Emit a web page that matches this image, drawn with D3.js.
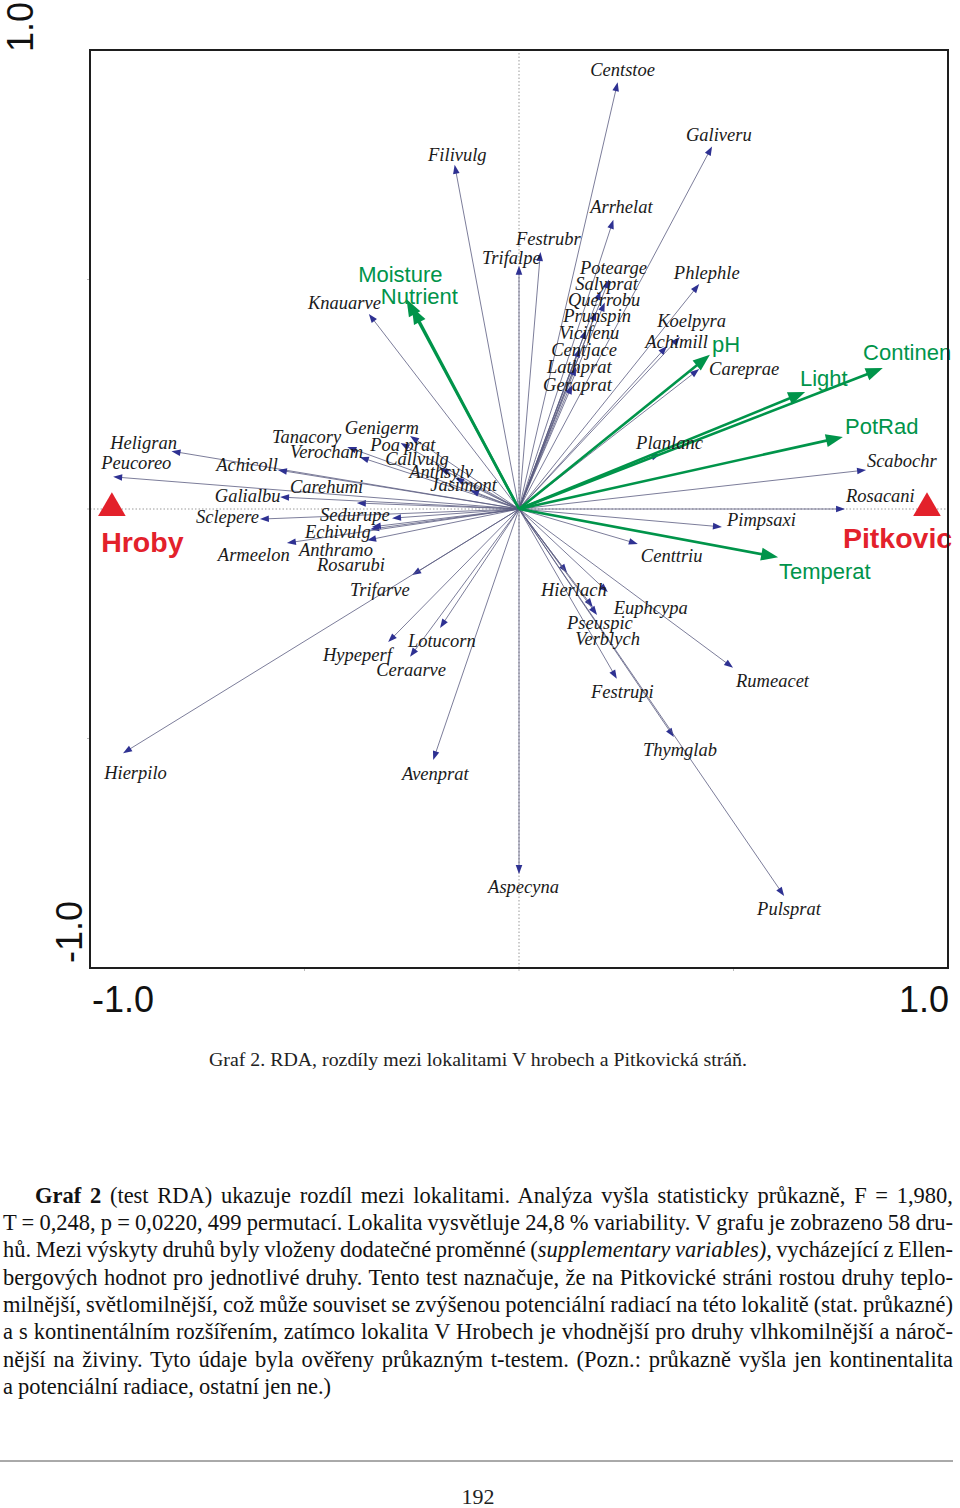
<!DOCTYPE html>
<html>
<head>
<meta charset="utf-8">
<script src="https://cdn.jsdelivr.net/npm/d3@7"></script>
<style>
  html, body { margin: 0; padding: 0; background: #fff; }
  svg { display: block; }
</style>
</head>
<body>
<svg id="chart" width="960" height="1508"></svg>
<script>
// ---------------- DATA (RDA biplot scores, axis units) ----------------
// species: name, arrow tip (x, y), label anchor (lx, ly)
const species = [
  ["Centstoe", 0.23, 0.93, 0.166, 0.956],
  ["Filivulg", -0.15, 0.75, -0.212, 0.771],
  ["Arrhelat", 0.22, 0.63, 0.166, 0.658],
  ["Festrubr", 0.05, 0.56, -0.007, 0.588],
  ["Trifalpe", 0.00, 0.53, -0.086, 0.547],
  ["Galiveru", 0.45, 0.79, 0.389, 0.815],
  ["Potearge", 0.21, 0.50, 0.142, 0.525],
  ["Salyprat", 0.19, 0.475, 0.131, 0.490],
  ["Querrobu", 0.20, 0.45, 0.114, 0.455],
  ["Prunspin", 0.18, 0.43, 0.103, 0.420],
  ["Vicifenu", 0.156, 0.39, 0.093, 0.383],
  ["Centjace", 0.142, 0.35, 0.075, 0.346],
  ["Lathprat", 0.133, 0.31, 0.065, 0.309],
  ["Geraprat", 0.124, 0.27, 0.056, 0.270],
  ["Phlephle", 0.42, 0.49, 0.361, 0.514],
  ["Koelpyra", 0.375, 0.375, 0.322, 0.410],
  ["Achimill", 0.345, 0.355, 0.294, 0.364],
  ["Careprae", 0.42, 0.305, 0.443, 0.305],
  ["Knauarve", -0.35, 0.425, -0.492, 0.449],
  ["Heligran", -0.81, 0.126, -0.953, 0.144],
  ["Peucoreo", -0.946, 0.070, -0.974, 0.100],
  ["Tanacory", -0.40, 0.135, -0.576, 0.157],
  ["Genigerm", -0.254, 0.159, -0.406, 0.176],
  ["Verocham", -0.371, 0.113, -0.534, 0.124],
  ["Poa prat", -0.276, 0.144, -0.347, 0.139],
  ["Callvulg", -0.184, 0.089, -0.312, 0.109],
  ["Achicoll", -0.562, 0.085, -0.706, 0.096],
  ["Anthsylv", -0.149, 0.068, -0.256, 0.081],
  ["Jasimont", -0.114, 0.041, -0.207, 0.052],
  ["Carehumi", -0.378, 0.013, -0.534, 0.048],
  ["Galialbu", -0.557, 0.026, -0.709, 0.028],
  ["Sclepere", -0.604, -0.022, -0.753, -0.017],
  ["Sedurupe", -0.296, -0.020, -0.464, -0.013],
  ["Echivulg", -0.347, -0.044, -0.499, -0.050],
  ["Armeelon", -0.541, -0.074, -0.702, -0.100],
  ["Anthramo", -0.354, -0.068, -0.513, -0.089],
  ["Rosarubi", -0.343, -0.039, -0.471, -0.122],
  ["Trifarve", -0.249, -0.144, -0.394, -0.176],
  ["Hypeperf", -0.305, -0.290, -0.457, -0.318],
  ["Lotucorn", -0.184, -0.259, -0.259, -0.288],
  ["Ceraarve", -0.254, -0.322, -0.333, -0.351],
  ["Hierpilo", -0.923, -0.532, -0.967, -0.575],
  ["Avenprat", -0.200, -0.547, -0.273, -0.577],
  ["Planlanc", 0.329, 0.120, 0.273, 0.144],
  ["Scabochr", 0.809, 0.085, 0.811, 0.105],
  ["Rosacani", 0.760, 0.000, 0.762, 0.028],
  ["Pimpsaxi", 0.473, -0.039, 0.485, -0.024],
  ["Centtriu", 0.277, -0.076, 0.284, -0.102],
  ["Hierlach", 0.112, -0.139, 0.051, -0.176],
  ["Euphcypa", 0.207, -0.181, 0.221, -0.216],
  ["Pseuspic", 0.172, -0.214, 0.112, -0.248],
  ["Verblych", 0.182, -0.231, 0.131, -0.283],
  ["Festrupi", 0.228, -0.370, 0.168, -0.399],
  ["Rumeacet", 0.499, -0.346, 0.506, -0.375],
  ["Thymglab", 0.361, -0.497, 0.289, -0.525],
  ["Aspecyna", 0.000, -0.795, -0.072, -0.824],
  ["Pulsprat", 0.618, -0.843, 0.555, -0.871]
];

// supplementary (Ellenberg) variables: name, tip (x, y), label anchor (lx, ly)
const envVars = [
  ["Moisture", -0.262, 0.457, -0.375, 0.510],
  ["Nutrient", -0.250, 0.440, -0.322, 0.464],
  ["pH", 0.445, 0.336, 0.450, 0.359],
  ["Light", 0.667, 0.255, 0.655, 0.285],
  ["Continen", 0.848, 0.307, 0.802, 0.340],
  ["PotRad", 0.755, 0.157, 0.760, 0.179],
  ["Temperat", 0.604, -0.105, 0.606, -0.137]
];

// sites (centroids of nominal variable): name, x, y, label lx, ly
const sites = [
  ["Hroby", -0.949, 0.002, -0.974, -0.072],
  ["Pitkovic", 0.951, 0.002, 0.755, -0.063]
];

const axisTickLabels = ["-1.0", "1.0"];

const captionText = "Graf 2. RDA, rozdíly mezi lokalitami V hrobech a Pitkovická stráň.";
// paragraph lines: segments [text, style]; style: n normal, b bold, i italic
const paragraphLines = [
  [["Graf 2", "b"], [" (test RDA) ukazuje rozdíl mezi lokalitami. Analýza vyšla statisticky průkazně, F = 1,980,", "n"]],
  [["T = 0,248, p = 0,0220, 499 permutací. Lokalita vysvětluje 24,8 % variability. V grafu je zobrazeno 58 dru-", "n"]],
  [["hů. Mezi výskyty druhů byly vloženy dodatečné proměnné (", "n"], ["supplementary variables)", "i"], [", vycházející z Ellen-", "n"]],
  [["bergových hodnot pro jednotlivé druhy. Tento test naznačuje, že na Pitkovické stráni rostou druhy teplo-", "n"]],
  [["milnější, světlomilnější, což může souviset se zvýšenou potenciální radiací na této lokalitě (stat. průkazné)", "n"]],
  [["a s kontinentálním rozšířením, zatímco lokalita V Hrobech je vhodnější pro druhy vlhkomilnější a nároč-", "n"]],
  [["nější na živiny. Tyto údaje byla ověřeny průkazným t-testem. (Pozn.: průkazně vyšla jen kontinentalita", "n"]],
  [["a potenciální radiace, ostatní jen ne.)", "n"]]
];
const pageNumber = "192";

// ---------------- DRAWING ----------------
const svg = d3.select("#chart");
const x = d3.scaleLinear().domain([-1, 1]).range([90, 948]);
const y = d3.scaleLinear().domain([-1, 1]).range([968, 50]);

const GREEN = "#00944a", RED = "#e3212b", NAVY = "#2e3192", LINE = "#5a5c80";

// dotted zero axes
svg.append("line").attr("x1", x(-1)).attr("x2", x(1)).attr("y1", y(0)).attr("y2", y(0))
  .attr("stroke", "#9a9a9a").attr("stroke-width", 1).attr("stroke-dasharray", "1.5,2");
svg.append("line").attr("x1", x(0)).attr("x2", x(0)).attr("y1", y(-1)).attr("y2", y(1))
  .attr("stroke", "#9a9a9a").attr("stroke-width", 1).attr("stroke-dasharray", "1.5,2");

// small ticks
[-0.5, 0, 0.5].forEach(t => {
  svg.append("line").attr("x1", x(t)).attr("x2", x(t)).attr("y1", y(-1)).attr("y2", y(-1) + 3)
    .attr("stroke", "#bbb").attr("stroke-width", 1);
  svg.append("line").attr("x1", x(-1) - 3).attr("x2", x(-1)).attr("y1", y(t)).attr("y2", y(t))
    .attr("stroke", "#bbb").attr("stroke-width", 1);
});

function arrowHead(g, x0, y0, x1, y1, len, half, color) {
  const dx = x1 - x0, dy = y1 - y0, L = Math.hypot(dx, dy);
  const ux = dx / L, uy = dy / L;
  const bx = x1 - ux * len, by = y1 - uy * len;
  const pts = [[x1, y1], [bx - uy * half, by + ux * half], [bx + uy * half, by - ux * half]];
  g.append("polygon").attr("points", pts.map(p => p.join(",")).join(" ")).attr("fill", color);
}

// species arrows
const gs = svg.append("g");
species.forEach(d => {
  const x0 = x(0), y0 = y(0), x1 = x(d[1]), y1 = y(d[2]);
  const L = Math.hypot(x1 - x0, y1 - y0);
  const ex = x1 - (x1 - x0) / L * 4, ey = y1 - (y1 - y0) / L * 4;
  gs.append("line").attr("x1", x0).attr("y1", y0).attr("x2", ex).attr("y2", ey)
    .attr("stroke", LINE).attr("stroke-width", 0.8);
  arrowHead(gs, x0, y0, x1, y1, 9, 3.3, NAVY);
});

// env arrows
const ge = svg.append("g");
envVars.forEach(d => {
  const x0 = x(0), y0 = y(0), x1 = x(d[1]), y1 = y(d[2]);
  const L = Math.hypot(x1 - x0, y1 - y0);
  const ex = x1 - (x1 - x0) / L * 10, ey = y1 - (y1 - y0) / L * 10;
  ge.append("line").attr("x1", x0).attr("y1", y0).attr("x2", ex).attr("y2", ey)
    .attr("stroke", GREEN).attr("stroke-width", 2.6);
  arrowHead(ge, x0, y0, x1, y1, 17, 6.5, GREEN);
});

// species labels
svg.append("g").selectAll("text").data(species).join("text")
  .attr("x", d => x(d[3])).attr("y", d => y(d[4]))
  .attr("dominant-baseline", "central")
  .attr("font-family", "'Liberation Serif', 'Times New Roman', serif")
  .attr("font-style", "italic").attr("font-size", 18.5).attr("fill", "#1a1a1a")
  .text(d => d[0]);

// env labels
svg.append("g").selectAll("text").data(envVars).join("text")
  .attr("x", d => x(d[3])).attr("y", d => y(d[4]))
  .attr("dominant-baseline", "central")
  .attr("font-family", "'Liberation Sans', Arial, sans-serif")
  .attr("font-size", 22).attr("fill", GREEN)
  .text(d => d[0]);

// sites
const tri = d3.symbol().type(d3.symbolTriangle).size(330);
svg.append("g").selectAll("path").data(sites).join("path")
  .attr("d", tri).attr("transform", d => `translate(${x(d[1])},${y(d[2])})`)
  .attr("fill", RED);
svg.append("g").selectAll("text").data(sites).join("text")
  .attr("x", d => x(d[3])).attr("y", d => y(d[4]))
  .attr("dominant-baseline", "central")
  .attr("font-family", "'Liberation Sans', Arial, sans-serif")
  .attr("font-weight", "bold").attr("font-size", 28.5).attr("fill", RED)
  .text(d => d[0]);

// frame
svg.append("rect").attr("x", x(-1)).attr("y", y(1)).attr("width", x(1) - x(-1)).attr("height", y(-1) - y(1))
  .attr("fill", "none").attr("stroke", "#1e1e1e").attr("stroke-width", 2);

// axis labels
const axFont = "'Liberation Sans', Arial, sans-serif";
svg.append("text").attr("x", 92).attr("y", 1012).attr("font-family", axFont).attr("font-size", 36)
  .attr("fill", "#111").text(axisTickLabels[0]);
svg.append("text").attr("x", 949).attr("y", 1012).attr("text-anchor", "end").attr("font-family", axFont)
  .attr("font-size", 36).attr("fill", "#111").text(axisTickLabels[1]);
svg.append("text").attr("transform", "translate(33,52) rotate(-90)").attr("font-family", axFont)
  .attr("font-size", 36).attr("fill", "#111").text(axisTickLabels[1]);
svg.append("text").attr("transform", "translate(82,963) rotate(-90)").attr("font-family", axFont)
  .attr("font-size", 36).attr("fill", "#111").text(axisTickLabels[0]);

// caption
const serif = "'Liberation Serif', 'Times New Roman', serif";
svg.append("text").attr("x", 209).attr("y", 1066).attr("font-family", serif).attr("font-size", 19.5)
  .attr("fill", "#222").attr("textLength", 538).attr("lengthAdjust", "spacingAndGlyphs").text(captionText);

// paragraph (justified by word-spacing)
const lineBase = [1203, 1230, 1257, 1285, 1312, 1339, 1367, 1394];
paragraphLines.forEach((segs, i) => {
  const left = i === 0 ? 35 : 3;
  const right = i === paragraphLines.length - 1 ? 331 : 953;
  const t = svg.append("text").attr("x", left).attr("y", lineBase[i])
    .attr("font-family", serif).attr("font-size", 22.5).attr("fill", "#111");
  segs.forEach(s => {
    t.append("tspan").text(s[0])
      .attr("font-weight", s[1] === "b" ? "bold" : null)
      .attr("font-style", s[1] === "i" ? "italic" : null);
  });
  const w = t.node().getComputedTextLength();
  const nSpaces = segs.map(s => s[0]).join("").split(" ").length - 1;
  const ws = (right - left - w) / Math.max(1, nSpaces);
  if (ws < -1.5) {
    // too wide: compress glyphs slightly instead
    t.style("word-spacing", "-1.5px");
    const w2 = t.node().getComputedTextLength();
    t.attr("textLength", right - left).attr("lengthAdjust", "spacingAndGlyphs");
  } else {
    t.style("word-spacing", ws + "px");
  }
});

// rule and page number
svg.append("line").attr("x1", 0).attr("x2", 953).attr("y1", 1461).attr("y2", 1461)
  .attr("stroke", "#555").attr("stroke-width", 1);
svg.append("text").attr("x", 478).attr("y", 1504).attr("text-anchor", "middle")
  .attr("font-family", serif).attr("font-size", 22).attr("fill", "#222").text(pageNumber);
</script>
</body>
</html>
